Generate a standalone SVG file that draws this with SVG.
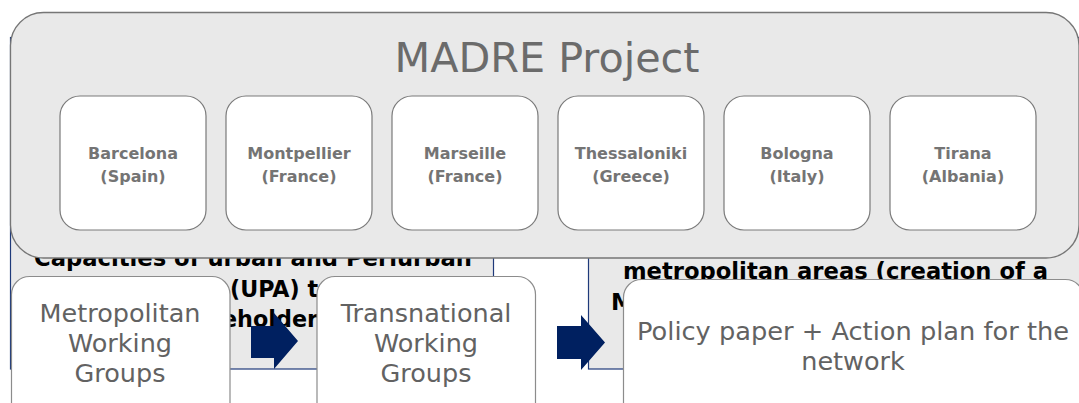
<svg xmlns="http://www.w3.org/2000/svg" width="1079" height="403" viewBox="0 0 1079 403">
<style>
.goal{fill:#e9e9e9;stroke:#1f3a7a;stroke-width:1.2}
.goaltxt{font-family:"DejaVu Sans",sans-serif;font-weight:bold;font-size:23px;fill:#000}
.container{fill:#e9e9e9;stroke:#767676;stroke-width:1.3}
.title{font-family:"DejaVu Sans",sans-serif;font-size:41px;fill:#6b6b6b;text-anchor:middle}
.city{fill:#ffffff;stroke:#7a7a7a;stroke-width:1.2}
.citytxt{font-family:"DejaVu Sans",sans-serif;font-weight:bold;font-size:16px;fill:#747474;text-anchor:middle}
.step{fill:#ffffff;stroke:#8c8c8c;stroke-width:1.2}
.steptxt{font-family:"DejaVu Sans",sans-serif;font-size:25.5px;fill:#626262;text-anchor:middle}
.arrow{fill:#002060}
</style>
<rect width="1079" height="403" fill="#ffffff"/>
<g id="objective-left">
<rect class="goal" x="10.5" y="37.5" width="483" height="331.5"/>
<text class="goaltxt" x="253" y="265.5" text-anchor="middle" textLength="438" lengthAdjust="spacingAndGlyphs">Capacities of urban and Periurban</text>
<text class="goaltxt" x="230" y="297" textLength="88" lengthAdjust="spacingAndGlyphs">(UPA) t</text>
<text class="goaltxt" x="222" y="327" textLength="96" lengthAdjust="spacingAndGlyphs">eholder</text>
</g>
<g id="objective-right">
<rect class="goal" x="588.5" y="37.5" width="520" height="331.5"/>
<text class="goaltxt" x="623" y="279" textLength="425" lengthAdjust="spacingAndGlyphs">metropolitan areas (creation of a</text>
<text class="goaltxt" x="611" y="310">M</text>
</g>
<g id="madre-project">
<rect class="container" x="10.5" y="12.5" width="1068.5" height="245.5" rx="33" ry="33"/>
<text class="title" x="547" y="72" textLength="305" lengthAdjust="spacingAndGlyphs">MADRE Project</text>
</g>
<g id="barcelona">
<rect class="city" x="60" y="96" width="146" height="134" rx="20" ry="20"/>
<text class="citytxt" x="133" y="159">Barcelona</text>
<text class="citytxt" x="133" y="182">(Spain)</text>
</g>
<g id="montpellier">
<rect class="city" x="226" y="96" width="146" height="134" rx="20" ry="20"/>
<text class="citytxt" x="299" y="159">Montpellier</text>
<text class="citytxt" x="299" y="182">(France)</text>
</g>
<g id="marseille">
<rect class="city" x="392" y="96" width="146" height="134" rx="20" ry="20"/>
<text class="citytxt" x="465" y="159">Marseille</text>
<text class="citytxt" x="465" y="182">(France)</text>
</g>
<g id="thessaloniki">
<rect class="city" x="558" y="96" width="146" height="134" rx="20" ry="20"/>
<text class="citytxt" x="631" y="159">Thessaloniki</text>
<text class="citytxt" x="631" y="182">(Greece)</text>
</g>
<g id="bologna">
<rect class="city" x="724" y="96" width="146" height="134" rx="20" ry="20"/>
<text class="citytxt" x="797" y="159">Bologna</text>
<text class="citytxt" x="797" y="182">(Italy)</text>
</g>
<g id="tirana">
<rect class="city" x="890" y="96" width="146" height="134" rx="20" ry="20"/>
<text class="citytxt" x="963" y="159">Tirana</text>
<text class="citytxt" x="963" y="182">(Albania)</text>
</g>
<g id="metropolitan-working-groups">
<rect class="step" x="11.5" y="276.5" width="218.5" height="160" rx="18" ry="18"/>
<text class="steptxt" x="120" y="322">Metropolitan</text>
<text class="steptxt" x="120" y="352">Working</text>
<text class="steptxt" x="120" y="382">Groups</text>
</g>
<g id="transnational-working-groups">
<rect class="step" x="317" y="276.5" width="218.5" height="160" rx="18" ry="18"/>
<text class="steptxt" x="426" y="322">Transnational</text>
<text class="steptxt" x="426" y="352">Working</text>
<text class="steptxt" x="426" y="382">Groups</text>
</g>
<g id="policy-paper">
<rect class="step" x="623.5" y="279.5" width="460" height="160" rx="18" ry="18"/>
<text class="steptxt" x="853" y="340" textLength="432" lengthAdjust="spacingAndGlyphs">Policy paper + Action plan for the</text>
<text class="steptxt" x="853" y="370">network</text>
</g>
<g id="connectors">
<polygon class="arrow" points="251,326 274,326 274,313 298,341 274,369 274,358 251,358"/>
<polygon class="arrow" points="557,326 581,326 581,315 605,342.5 581,370 581,359 557,359"/>
</g>
</svg>
